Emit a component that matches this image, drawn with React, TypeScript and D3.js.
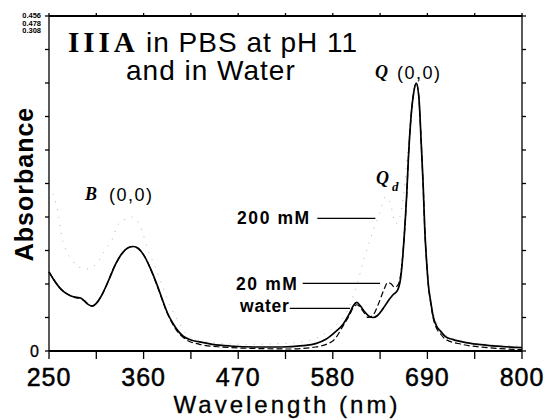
import React from 'react';
import * as d3 from 'd3';

// Wavelength (nm) and absorbance (fraction of full scale)
const waterWl = [250, 255, 262, 267, 275, 282, 286, 290, 295, 300, 306, 312, 320, 328, 335, 342, 348, 354, 360, 367, 375, 382, 388, 394, 400, 406, 415, 425, 440, 460, 490, 520, 545, 560, 572, 582, 592, 599, 604, 608, 612, 617, 622, 627, 632, 638, 644, 650, 655, 659, 663, 666, 668, 671, 674, 677, 680, 683, 685, 687, 689, 691, 694, 697, 701, 705, 711, 720, 735, 760, 800];
const waterAbs = [0.236, 0.215, 0.19, 0.177, 0.165, 0.16, 0.159, 0.152, 0.14, 0.134, 0.145, 0.17, 0.215, 0.262, 0.292, 0.308, 0.312, 0.306, 0.287, 0.252, 0.202, 0.152, 0.112, 0.083, 0.06, 0.044, 0.033, 0.027, 0.02, 0.015, 0.012, 0.012, 0.016, 0.022, 0.035, 0.055, 0.08, 0.11, 0.136, 0.145, 0.135, 0.117, 0.104, 0.1, 0.106, 0.125, 0.148, 0.168, 0.18, 0.22, 0.34, 0.47, 0.58, 0.7, 0.77, 0.8, 0.76, 0.61, 0.5, 0.36, 0.27, 0.2, 0.145, 0.1, 0.073, 0.06, 0.043, 0.034, 0.025, 0.017, 0.01];

const mM20Wl = [250, 262, 275, 290, 300, 312, 328, 342, 348, 360, 375, 388, 400, 410, 425, 450, 500, 530, 560, 580, 592, 599, 604, 608, 612, 617, 621, 627, 633, 639, 644, 648, 652, 656, 660, 663, 666, 668, 671, 674, 677, 680, 683, 685, 687, 689, 691, 694, 697, 701, 705, 711, 730, 760, 800];
const mM20Abs = [0.236, 0.19, 0.165, 0.152, 0.134, 0.17, 0.262, 0.308, 0.312, 0.287, 0.2, 0.11, 0.056, 0.033, 0.02, 0.012, 0.007, 0.006, 0.012, 0.03, 0.075, 0.105, 0.13, 0.138, 0.13, 0.112, 0.1, 0.108, 0.14, 0.18, 0.205, 0.2, 0.19, 0.198, 0.25, 0.34, 0.47, 0.58, 0.7, 0.77, 0.8, 0.76, 0.61, 0.5, 0.36, 0.27, 0.2, 0.14, 0.095, 0.066, 0.052, 0.035, 0.02, 0.01, 0.004];

const mM200Wl = [250, 256, 260, 265, 270, 277, 285, 295, 305, 315, 323, 330, 340, 347, 352, 358, 364, 372, 381, 390, 400, 410, 420, 440, 480, 520, 550, 570, 585, 597, 607, 617, 627, 635, 641, 647, 653, 658, 663, 668, 672, 677, 681, 685, 689, 694, 700, 710, 730, 760, 800];
const mM200Abs = [0.49, 0.46, 0.42, 0.34, 0.3, 0.27, 0.25, 0.245, 0.26, 0.3, 0.33, 0.376, 0.395, 0.4, 0.39, 0.36, 0.31, 0.26, 0.2, 0.14, 0.09, 0.05, 0.035, 0.025, 0.02, 0.022, 0.03, 0.05, 0.08, 0.12, 0.19, 0.28, 0.36, 0.415, 0.46, 0.44, 0.38, 0.4, 0.48, 0.62, 0.72, 0.8, 0.74, 0.52, 0.28, 0.15, 0.09, 0.05, 0.03, 0.02, 0.015];

const xTickLabels = [250, 360, 470, 580, 690, 800];
const xTickStep = 55;
const yTickStep = 0.1;
const yTopLabels = ['0.456', '0.478', '0.308'];

const zip = (a: number[], b: number[]) => a.map((v, i) => [v, b[i]] as [number, number]);

export default function App() {
  const W = 549, H = 420;
  const L = 49, R = 522, T = 16, B = 351;
  const x = d3.scaleLinear().domain([250, 800]).range([L, R]);
  const y = d3.scaleLinear().domain([0, 1]).range([B, T]);
  const line = d3.line<[number, number]>().x(d => x(d[0])).y(d => y(d[1])).curve(d3.curveMonotoneX);

  const xTicks = d3.range(250, 800.1, xTickStep);
  const yTicks = d3.range(0, 1.0001, yTickStep);
  const sans = 'Liberation Sans, Arial, sans-serif';
  const serif = 'Liberation Serif, Times New Roman, serif';

  return (
    <svg width={W} height={H} style={{ position: 'absolute', left: 0, top: 0, background: '#fff' }}>
      {/* curves */}
      <path d={line(zip(mM200Wl, mM200Abs)) || ''} fill="none" stroke="#b4b4b4" strokeWidth={1} strokeDasharray="1,7" />
      <path d={line(zip(mM20Wl, mM20Abs)) || ''} fill="none" stroke="#000" strokeWidth={1.2} strokeDasharray="6,3" />
      <path d={line(zip(waterWl, waterAbs)) || ''} fill="none" stroke="#000" strokeWidth={1.7} />

      {/* frame */}
      <line x1={L} x2={R} y1={B} y2={B} stroke="#000" strokeWidth={2} />
      <line x1={L} x2={R} y1={T} y2={T} stroke="#000" strokeWidth={2} />
      <line x1={L} x2={L} y1={T} y2={B} stroke="#000" strokeWidth={1.3} />
      <line x1={R} x2={R} y1={T} y2={B} stroke="#000" strokeWidth={1.3} />

      {xTicks.map((t, i) => (
        <g key={'xt' + i}>
          <line x1={x(t)} x2={x(t)} y1={B} y2={B + 8} stroke="#000" strokeWidth={1.3} />
          <line x1={x(t)} x2={x(t)} y1={T} y2={T - 3} stroke="#000" strokeWidth={1.3} />
        </g>
      ))}
      {yTicks.map((t, i) => (
        <g key={'yt' + i}>
          <line x1={L - 4} x2={L} y1={y(t)} y2={y(t)} stroke="#000" strokeWidth={1.3} />
          <line x1={R} x2={R + 4} y1={y(t)} y2={y(t)} stroke="#000" strokeWidth={1.3} />
        </g>
      ))}

      {xTickLabels.map((t, i) => (
        <text key={'xl' + i} x={x(t)} y={386} textAnchor="middle" fontFamily={sans} fontSize={25} letterSpacing={1} stroke="#000" strokeWidth={0.5}>{t}</text>
      ))}
      <text x={39} y={y(0) + 5.5} textAnchor="end" fontFamily={sans} fontSize={16} stroke="#000" strokeWidth={0.3}>0</text>
      {yTopLabels.map((s, i) => (
        <text key={'yl' + i} x={41} y={18 + i * 7.5} textAnchor="end" fontFamily={sans} fontSize={7.5} fontWeight="bold">{s}</text>
      ))}

      {/* axis titles */}
      <text x={287} y={413} textAnchor="middle" fontFamily={sans} fontSize={24} letterSpacing={3} stroke="#000" strokeWidth={0.3}>Wavelength  (nm)</text>
      <text transform={`translate(33,184) rotate(-90)`} textAnchor="middle" fontFamily={sans} fontSize={25} fontWeight="bold" letterSpacing={1}>Absorbance</text>

      {/* title */}
      <text x={68} y={52} fontFamily={serif} fontSize={29} fontWeight="bold" letterSpacing={4}>IIIA</text>
      <text x={146} y={52} fontFamily={sans} fontSize={28} letterSpacing={1}>in PBS at pH 11</text>
      <text x={126} y={80} fontFamily={sans} fontSize={28} letterSpacing={1}>and in Water</text>

      {/* band labels */}
      <text x={85} y={200} fontFamily={serif} fontSize={18} fontWeight="bold" fontStyle="italic">B</text>
      <text x={109} y={201} fontFamily={sans} fontSize={18} letterSpacing={1.5}>(0,0)</text>
      <text x={375} y={78} fontFamily={serif} fontSize={18} fontWeight="bold" fontStyle="italic">Q</text>
      <text x={397} y={79} fontFamily={sans} fontSize={18} letterSpacing={1.5}>(0,0)</text>
      <text x={376} y={184} fontFamily={serif} fontSize={18} fontWeight="bold" fontStyle="italic">Q</text>
      <text x={392} y={191} fontFamily={serif} fontSize={13} fontWeight="bold" fontStyle="italic">d</text>

      {/* series labels with leaders */}
      <text x={237} y={224} fontFamily={sans} fontSize={17.5} fontWeight="bold" letterSpacing={1.6}>200 mM</text>
      <line x1={x(562)} x2={x(629.5)} y1={y(0.396)} y2={y(0.396)} stroke="#000" strokeWidth={1.2} />
      <text x={236} y={290} fontFamily={sans} fontSize={17.5} fontWeight="bold" letterSpacing={1.6}>20 mM</text>
      <line x1={x(545)} x2={x(635)} y1={y(0.202)} y2={y(0.202)} stroke="#000" strokeWidth={1.2} />
      <text x={240} y={312} fontFamily={sans} fontSize={17.5} fontWeight="bold" letterSpacing={0.8}>water</text>
      <line x1={x(530)} x2={x(600)} y1={y(0.127)} y2={y(0.127)} stroke="#000" strokeWidth={1.2} />
    </svg>
  );
}
